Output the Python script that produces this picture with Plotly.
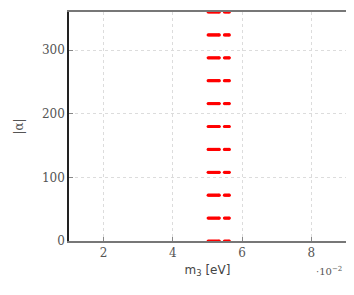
import plotly.graph_objects as go

# |alpha| levels (rows)
alpha_levels = [0, 36, 72, 108, 144, 180, 216, 252, 288, 324, 360]
# m3 values (in units of 1e-2 eV) found per row
m3_values = [5.02, 5.05, 5.08, 5.11, 5.14, 5.17, 5.20, 5.23, 5.26,
             5.29, 5.32, 5.34, 5.49, 5.52, 5.55, 5.58, 5.61, 5.63]

xs, ys = [], []
for a in alpha_levels:
    for m in m3_values:
        xs.append(m)
        ys.append(a)

x_ticks = [2, 4, 6, 8]
y_ticks = [0, 100, 200, 300]

fig = go.Figure()
fig.add_trace(go.Scatter(
    x=xs, y=ys, mode="markers",
    marker=dict(color="red", size=3.2, line=dict(width=0)),
    cliponaxis=False, showlegend=False,
))

tick_font = dict(family="DejaVu Serif, Liberation Serif, serif", size=12, color="#555555")
grid = dict(showgrid=True, gridcolor="#dcdcdc", griddash="dot", gridwidth=1)

# page body has an 8px margin, so the figure is sized/margined to compensate
fig.update_layout(
    width=346, height=287,
    margin=dict(l=61, r=8, t=4, b=54, autoexpand=False),
    plot_bgcolor="white", paper_bgcolor="white",
    xaxis=dict(range=[1, 9], tickvals=x_ticks, ticktext=[str(v) for v in x_ticks],
               ticks="inside", ticklen=4, tickcolor="#888888", automargin=False,
               showline=True, linecolor="#777777", linewidth=1.5, mirror=True,
               zeroline=False, tickfont=tick_font, **grid,
               title=dict(text="m<sub>3</sub> [eV]", standoff=6,
                          font=dict(family="DejaVu Sans, sans-serif", size=12, color="#444444"))),
    yaxis=dict(range=[0, 360], tickvals=y_ticks, ticktext=[str(v) for v in y_ticks],
               ticks="inside", ticklen=4, tickcolor="#888888", automargin=False,
               showline=True, linecolor="#222222", linewidth=1.5, mirror=True,
               zeroline=False, tickfont=tick_font, **grid,
               title=dict(text="|α|", standoff=16,
                          font=dict(family="DejaVu Serif, serif", size=12, color="#555555"))),
    annotations=[dict(text="·10<sup>−2</sup>", x=0.94, y=-0.13, xref="paper", yref="paper",
                      xanchor="center", yanchor="middle",
                      showarrow=False, font=dict(family="DejaVu Serif, serif", size=10, color="#555555"))],
)

fig.write_html("out.html")
